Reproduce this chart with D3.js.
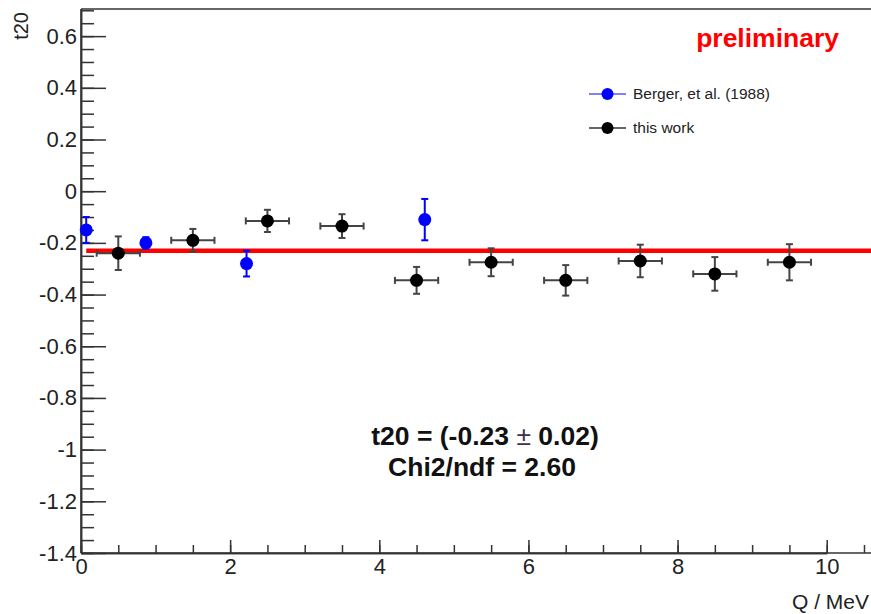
<!DOCTYPE html>
<html lang="en">
<head>
    <meta charset="UTF-8">
    <title>t20 vs Q</title>
    <script src="https://d3js.org/d3.v7.min.js"></script>
    <style>
        body { margin: 0; background: #fff; }
        svg { display: block; font-family: "Liberation Sans", Arial, sans-serif; }
        .axis text { font-size: 22px; fill: #222; }
        .axis path, .axis line { stroke: #333; stroke-width: 1.5; }
    </style>
</head>
<body>
<svg id="chart" width="871" height="614"></svg>

<script>
// Berger, et al. (1988)
const bergerQ = [0.07, 0.87, 2.22, 4.61];
const bergerT20 = [-0.15, -0.20, -0.28, -0.11];
const bergerErr = [0.05, 0.022, 0.05, 0.08];

// this work
const workQ = [0.5, 1.5, 2.5, 3.5, 4.5, 5.5, 6.5, 7.5, 8.5, 9.5];
const workQErr = [0.29, 0.29, 0.29, 0.29, 0.29, 0.29, 0.29, 0.29, 0.29, 0.29];
const workT20 = [-0.24, -0.19, -0.115, -0.135, -0.345, -0.275, -0.345, -0.27, -0.32, -0.275];
const workErr = [0.065, 0.044, 0.043, 0.046, 0.052, 0.054, 0.059, 0.063, 0.065, 0.07];

// constant fit
const fitValue = -0.23;
const fitErr = 0.02;
const chi2ndf = 2.60;
const fitRange = [0.07, 11];

const yMajor = [-1.4, -1.2, -1, -0.8, -0.6, -0.4, -0.2, 0, 0.2, 0.4, 0.6];
const xMajor = [0, 2, 4, 6, 8, 10];

const svg = d3.select("#chart");
const padLeft = 81, padTop = 9, axisY = 553;

const x = d3.scaleLinear().domain([0, 10]).range([padLeft, 826.7]);
const y = d3.scaleLinear().domain([-1.4, 0.705]).range([axisY, padTop]);

// minor ticks
const yMinor = d3.range(-1.4, 0.701, 0.05).map(v => +v.toFixed(2));
const xMinor = d3.range(0, 10.51, 0.5);

svg.append("g").attr("class", "axis")
    .attr("transform", `translate(${padLeft},0)`)
    .call(d3.axisLeft(y).tickValues(yMinor).tickSizeInner(-13).tickSizeOuter(0).tickFormat(""));
svg.append("g").attr("class", "axis")
    .attr("transform", `translate(${padLeft},0)`)
    .call(d3.axisLeft(y).tickValues(yMajor).tickSizeInner(-25).tickSizeOuter(0).tickPadding(4)
        .tickFormat(d => String(+d.toFixed(1))));

svg.append("g").attr("class", "axis")
    .attr("transform", `translate(0,${axisY})`)
    .call(d3.axisBottom(x).tickValues(xMinor).tickSizeInner(-8).tickSizeOuter(0).tickFormat(""));
svg.append("g").attr("class", "axis")
    .attr("transform", `translate(0,${axisY})`)
    .call(d3.axisBottom(x).tickValues(xMajor).tickSizeInner(-13).tickSizeOuter(0).tickPadding(5));

// extend the x axis line to the edge and draw the top frame
svg.append("line").attr("x1", padLeft).attr("x2", 900).attr("y1", axisY).attr("y2", axisY)
    .attr("stroke", "#333").attr("stroke-width", 1.5);
svg.append("line").attr("x1", padLeft).attr("x2", 900).attr("y1", padTop).attr("y2", padTop)
    .attr("stroke", "#333").attr("stroke-width", 1.5);
svg.append("line").attr("x1", padLeft).attr("x2", padLeft).attr("y1", padTop).attr("y2", axisY)
    .attr("stroke", "#333").attr("stroke-width", 1.5);

// axis titles
svg.append("text")
    .attr("transform", "translate(28,12) rotate(-90)")
    .attr("text-anchor", "end")
    .style("font-size", "20px").style("fill", "#222")
    .text("t20");
svg.append("text")
    .attr("x", 869).attr("y", 609).attr("text-anchor", "end")
    .style("font-size", "21px").style("fill", "#222")
    .text("Q / MeV");

// fit line
svg.append("line")
    .attr("x1", x(fitRange[0])).attr("x2", x(fitRange[1]))
    .attr("y1", y(fitValue)).attr("y2", y(fitValue))
    .attr("stroke", "#ff0000").attr("stroke-width", 4.5);

// error bars helper
function drawPoints(qs, vals, errs, qerrs, color, barColor) {
    const g = svg.append("g");
    qs.forEach((q, i) => {
        const cx = x(q), cy = y(vals[i]);
        const y1 = y(vals[i] + errs[i]), y2 = y(vals[i] - errs[i]);
        g.append("line").attr("x1", cx).attr("x2", cx).attr("y1", y1).attr("y2", y2)
            .attr("stroke", barColor).attr("stroke-width", 2);
        [y1, y2].forEach(yy => g.append("line")
            .attr("x1", cx - 3.5).attr("x2", cx + 3.5).attr("y1", yy).attr("y2", yy)
            .attr("stroke", barColor).attr("stroke-width", 2));
        if (qerrs) {
            const x1 = x(q - qerrs[i]), x2 = x(q + qerrs[i]);
            g.append("line").attr("x1", x1).attr("x2", x2).attr("y1", cy).attr("y2", cy)
                .attr("stroke", barColor).attr("stroke-width", 2);
            [x1, x2].forEach(xx => g.append("line")
                .attr("x1", xx).attr("x2", xx).attr("y1", cy - 3.5).attr("y2", cy + 3.5)
                .attr("stroke", barColor).attr("stroke-width", 2));
        }
        g.append("circle").attr("cx", cx).attr("cy", cy).attr("r", 6.5).attr("fill", color);
    });
}

drawPoints(bergerQ, bergerT20, bergerErr, null, "#0000ff", "#0000ff");
drawPoints(workQ, workT20, workErr, workQErr, "#000", "#444");

// legend
const legend = [
    {label: "Berger, et al. (1988)", color: "#0000ff", line: "#5555ff", y: 94},
    {label: "this work", color: "#000", line: "#333", y: 128}
];
legend.forEach(d => {
    svg.append("line").attr("x1", 589).attr("x2", 626).attr("y1", d.y).attr("y2", d.y)
        .attr("stroke", d.line).attr("stroke-width", 1.5);
    svg.append("circle").attr("cx", 607.5).attr("cy", d.y).attr("r", 6).attr("fill", d.color);
    svg.append("text").attr("x", 633).attr("y", d.y).attr("dy", "0.35em")
        .style("font-size", "15.5px").style("fill", "#222").text(d.label);
});

// labels
svg.append("text").attr("x", 839).attr("y", 47).attr("text-anchor", "end")
    .style("font-size", "26.5px").style("font-weight", "bold").style("fill", "#ff0000")
    .text("preliminary");

const f1 = svg.append("text").attr("x", 485).attr("y", 445).attr("text-anchor", "middle")
    .style("font-size", "26.5px").style("font-weight", "bold").style("fill", "#111");
f1.append("tspan").text(`t20 = (${fitValue.toFixed(2)}  `);
f1.append("tspan").style("font-weight", "normal").style("fill", "#403050").text("\u00b1");
f1.append("tspan").text(` ${fitErr.toFixed(2)})`);

svg.append("text").attr("x", 482).attr("y", 476).attr("text-anchor", "middle")
    .style("font-size", "26.5px").style("font-weight", "bold").style("fill", "#111")
    .text(`Chi2/ndf = ${chi2ndf.toFixed(2)}`);
</script>
</body>
</html>
